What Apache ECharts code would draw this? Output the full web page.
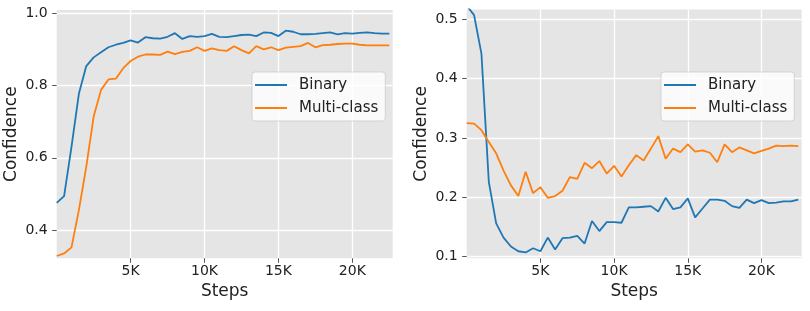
<!DOCTYPE html>
<html>
<head>
<meta charset="utf-8">
<script src="https://cdn.jsdelivr.net/npm/echarts@6/dist/echarts.min.js"></script>
<style>html,body{margin:0;padding:0;background:#fff;}#c{width:810px;height:311px;}</style>
</head>
<body>
<div id="c"></div>
<script>
var steps = [0,500,1000,1500,2000,2500,3000,3500,4000,4500,5000,5500,6000,6500,7000,7500,8000,8500,9000,9500,10000,10500,11000,11500,12000,12500,13000,13500,14000,14500,15000,15500,16000,16500,17000,17500,18000,18500,19000,19500,20000,20500,21000,21500,22000,22500];

var leftBinary = [0.475,0.494,0.630,0.777,0.854,0.878,0.892,0.906,0.913,0.918,0.925,0.919,0.934,0.931,0.930,0.935,0.945,0.929,0.937,0.935,0.937,0.943,0.935,0.934,0.937,0.940,0.941,0.937,0.947,0.946,0.937,0.952,0.949,0.942,0.942,0.943,0.945,0.947,0.942,0.945,0.944,0.946,0.947,0.945,0.944,0.944];
var leftMulti = [0.328,0.335,0.352,0.455,0.575,0.714,0.788,0.817,0.819,0.848,0.868,0.880,0.886,0.886,0.885,0.894,0.887,0.893,0.896,0.906,0.896,0.903,0.898,0.896,0.909,0.898,0.889,0.909,0.900,0.906,0.898,0.905,0.907,0.909,0.918,0.906,0.912,0.913,0.915,0.916,0.916,0.913,0.911,0.911,0.911,0.911];

var rightBinary = [0.523,0.507,0.442,0.226,0.156,0.132,0.117,0.109,0.107,0.114,0.109,0.132,0.112,0.131,0.132,0.135,0.122,0.160,0.143,0.158,0.158,0.157,0.183,0.183,0.184,0.185,0.176,0.199,0.180,0.183,0.198,0.166,0.181,0.196,0.196,0.194,0.185,0.182,0.196,0.190,0.195,0.190,0.191,0.193,0.193,0.196];
var rightMulti = [0.325,0.324,0.313,0.293,0.274,0.245,0.220,0.202,0.243,0.207,0.217,0.199,0.202,0.211,0.234,0.231,0.258,0.249,0.261,0.240,0.253,0.235,0.254,0.271,0.262,0.282,0.303,0.265,0.282,0.276,0.289,0.277,0.279,0.275,0.259,0.289,0.276,0.284,0.279,0.274,0.278,0.282,0.287,0.286,0.287,0.286];

var xTicks = [5000,10000,15000,20000];
var xTickLabels = ['5K','10K','15K','20K'];
var leftYTicks = [0.4,0.6,0.8,1.0];
var rightYTicks = [0.1,0.2,0.3,0.4,0.5];
var seriesNames = ['Binary','Multi-class'];

var FONT = 'DejaVu Sans';
var TXT = '#222222';
var BLUE = '#1f77b4', ORANGE = '#ff7f0e';

function pairs(xs, ys){ return xs.map(function(x,i){ return [x, ys[i]]; }); }

function xAxis(idx){
  return {
    type:'value', gridIndex: idx, min: 0, max: 22730,
    axisLine:{show:false},
    axisTick:{show:true, customValues: xTicks, length:4.5, lineStyle:{color:'#555555', width:1}},
    axisLabel:{show:true, customValues: xTicks, margin:6, fontFamily:FONT, fontSize:14, color:TXT,
      formatter:function(v){ var k = xTicks.indexOf(v); return k>=0 ? xTickLabels[k] : ''; }},
    splitLine:{show:true, lineStyle:{color:'#ffffff', width:1.3}},
    name:'Steps', nameLocation:'middle', nameGap:25,
    nameTextStyle:{fontFamily:FONT, fontSize:17, color:TXT}
  };
}
function yAxis(idx, mn, mx, ticks){
  return {
    type:'value', gridIndex: idx, min: mn, max: mx,
    axisLine:{show:false},
    axisTick:{show:true, customValues: ticks, length:4.5, lineStyle:{color:'#555555', width:1}},
    axisLabel:{show:true, customValues: ticks, margin:9, fontFamily:FONT, fontSize:14, color:TXT,
      formatter:function(v){ return v.toFixed(1); }},
    splitLine:{show:true, lineStyle:{color:'#ffffff', width:1.3}},
    name:'Confidence', nameLocation:'middle', nameGap:37,
    nameTextStyle:{fontFamily:FONT, fontSize:17, color:TXT}
  };
}
function legend(left){
  return {
    orient:'vertical', left:left, top:72,
    data: seriesNames,
    icon:'rect', itemWidth:32, itemHeight:2, itemGap:5,
    padding:[4,7,4,3],
    backgroundColor:'rgba(255,255,255,0.8)',
    borderColor:'rgba(204,204,204,0.8)', borderWidth:1, borderRadius:3,
    selectedMode:false,
    textStyle:{fontFamily:FONT, fontSize:15, color:TXT, lineHeight:18, padding:[0,0,0,7]}
  };
}
function line(name, data, xi, color){
  return {
    type:'line', name:name, data:data, xAxisIndex:xi, yAxisIndex:xi,
    showSymbol:false, symbol:'none', clip:true, smooth:false,
    lineStyle:{color:color, width:1.8}, itemStyle:{color:color},
    emphasis:{disabled:true}
  };
}

var chart = echarts.init(document.getElementById('c'), null, {renderer:'canvas'});
chart.setOption({
  animation:false,
  backgroundColor:'#ffffff',
  grid:[
    {left:56.7, top:10, width:336, height:248.3, show:true, backgroundColor:'#e5e5e5', borderWidth:0, containLabel:false, outerBoundsMode:'none'},
    {left:466.7, top:9.5, width:335, height:248.8, show:true, backgroundColor:'#e5e5e5', borderWidth:0, containLabel:false, outerBoundsMode:'none'}
  ],
  xAxis:[xAxis(0), xAxis(1)],
  yAxis:[yAxis(0, 0.3216, 1.0092, leftYTicks), yAxis(1, 0.0971, 0.5164, rightYTicks)],
  legend:[legend(252), legend(661)],
  series:[
    line(seriesNames[0], pairs(steps, leftBinary), 0, BLUE),
    line(seriesNames[1], pairs(steps, leftMulti), 0, ORANGE),
    line(seriesNames[0], pairs(steps, rightBinary), 1, BLUE),
    line(seriesNames[1], pairs(steps, rightMulti), 1, ORANGE)
  ]
});
</script>
</body>
</html>
